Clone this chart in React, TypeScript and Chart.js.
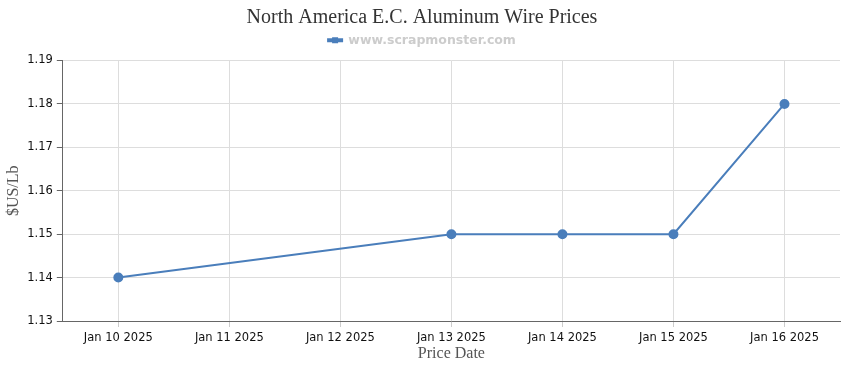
import React, { useEffect, useRef } from "react";
import { Chart, registerables } from "chart.js";

Chart.register(...registerables);

const categories = ["Jan 10 2025", "Jan 11 2025", "Jan 12 2025", "Jan 13 2025", "Jan 14 2025", "Jan 15 2025", "Jan 16 2025"];
const prices: (number | null)[] = [1.14, null, null, 1.15, 1.15, 1.15, 1.18];
const seriesName = "www.scrapmonster.com";
const chartTitle = "North America E.C. Aluminum Wire Prices";

const legendMarker = {
  id: "legendMarker",
  beforeLayout(chart: any) {
    const lg = chart.legend;
    if (lg && !lg._patchedFit) {
      const orig = lg.fit.bind(lg);
      lg.fit = function () {
        orig();
        this.height += 4;
      };
      lg._patchedFit = true;
    }
  },
  afterDraw(chart: any) {
    const lg = chart.legend;
    if (!lg || !lg.legendHitBoxes || !lg.legendHitBoxes.length) return;
    const hb = lg.legendHitBoxes[0];
    const ctx = chart.ctx;
    const bw = 14;
    const cx = hb.left + bw / 2;
    const cy = hb.top + hb.height / 2;
    ctx.save();
    ctx.fillStyle = "#4a7ebb";
    ctx.fillRect(cx - 3, cy - 3, 6, 6);
    ctx.restore();
  },
};

export default function App() {
  const ref = useRef<HTMLCanvasElement>(null);
  useEffect(() => {
    document.body.style.margin = "0";
    if (!ref.current) return;
    const chart = new Chart(ref.current, {
      type: "line",
      data: {
        labels: categories,
        datasets: [
          {
            label: seriesName,
            data: prices,
            borderColor: "#4a7ebb",
            backgroundColor: "#4a7ebb",
            borderWidth: 2,
            pointRadius: 4,
            pointHoverRadius: 4,
            spanGaps: true,
            tension: 0,
          },
        ],
      },
      plugins: [legendMarker],
      options: {
        animation: false,
        responsive: false,
        layout: { padding: { left: 4, right: 10, top: 4, bottom: 7 } },
        plugins: {
          title: {
            display: true,
            text: chartTitle,
            color: "#333333",
            font: { family: "'Liberation Serif', serif", size: 20, weight: "normal" },
            padding: { top: 2, bottom: -3 },
          },
          legend: {
            display: true,
            labels: {
              boxWidth: 14,
              boxHeight: 2,
              color: "#cccccc",
              font: { family: "'DejaVu Sans', sans-serif", size: 12.5, weight: "bold" },
              padding: 7,
            },
          },
          tooltip: { enabled: false },
        },
        scales: {
          x: {
            offset: true,
            grid: { offset: false, color: "#dddddd", tickLength: 6, tickColor: "#cccccc" },
            border: { color: "#666666" },
            ticks: {
              color: "#111111",
              font: { family: "'DejaVu Sans', sans-serif", size: 11.5 },
              maxRotation: 0,
              padding: 4,
            },
            title: {
              display: true,
              text: "Price Date",
              color: "#555555",
              font: { family: "'Liberation Serif', serif", size: 16 },
              padding: { top: -5, bottom: 0 },
            },
          },
          y: {
            min: 1.13,
            max: 1.19,
            grid: { color: "#dddddd", tickLength: 6, tickColor: "#666666" },
            border: { color: "#666666" },
            ticks: {
              stepSize: 0.01,
              color: "#111111",
              font: { family: "'DejaVu Sans', sans-serif", size: 11.5 },
              callback: (v: any) => Number(v).toFixed(2),
              padding: 4,
            },
            title: {
              display: true,
              text: "$US/Lb",
              color: "#555555",
              font: { family: "'Liberation Serif', serif", size: 16 },
              padding: { top: 0, bottom: 0 },
            },
          },
        },
      },
    });
    return () => chart.destroy();
  }, []);
  return <canvas ref={ref} width={850} height={370} style={{ display: "block" }} />;
}
